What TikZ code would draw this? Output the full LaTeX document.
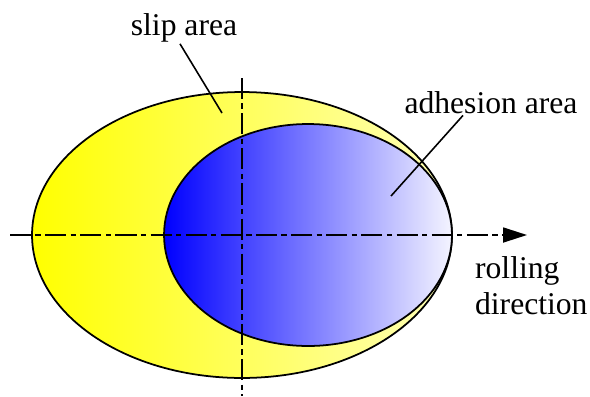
\documentclass[tikz,border=0pt]{standalone}
\usepackage{fontspec}
\setmainfont{Liberation Serif}
\newfontfamily\labelfont{Liberation Serif}
\usetikzlibrary{arrows.meta,positioning,shapes.geometric}
\definecolor{SlipYellow}{HTML}{FFFF00}
\definecolor{PaleYellow}{HTML}{FFFFB8}
\definecolor{StickBlue}{HTML}{0000FF}
\definecolor{PaleBlue}{HTML}{F4F4FF}

\begin{document}
\begin{tikzpicture}[x=0.02cm,y=-0.02cm,
      zone/.style={ellipse,draw=black,line width=1pt,inner sep=0pt},
      axis/.style={line width=1pt,dash pattern=on 12pt off 2.5pt on 3pt off 2.5pt},
      lbl/.style={font=\labelfont\fontsize{18}{20.4}\selectfont,inner sep=1pt},
      leader/.style={line width=0.9pt},
    ]
    \useasboundingbox (0,0) rectangle (590,396);

    % contact patch
    \node[zone,minimum width=8.4cm,minimum height=5.72cm,
          left color=SlipYellow,right color=PaleYellow] (slipzone) at (242,235) {};
    \node[zone,minimum width=5.76cm,minimum height=4.44cm,
          left color=StickBlue,right color=PaleBlue] (adhzone) at (308,235) {};

    % axes
    \coordinate (xstart) at (10,235);
    \coordinate (xend)   at (527,235);
    \coordinate (ytop)   at (242,78);
    \coordinate (ybot)   at (242,396);
    \draw[axis,-{Triangle[length=0.48cm,width=0.3cm]}] (xstart) -- (xend);
    \draw[axis] (ytop) -- (ybot);

    % labels
    \node[lbl,anchor=base] (sliplbl) at (184,35)  {slip area};
    \node[lbl,anchor=base] (adhlbl)  at (491,113) {adhesion area};
    \node[lbl,anchor=base west,align=left] (rolllbl) at (473,314) {rolling\\direction};

    \coordinate (slipdot) at (222,113);
    \coordinate (adhdot)  at (391,196);
    \draw[leader] ([xshift=-0.08cm]sliplbl.south) -- (slipdot);
    \draw[leader] ([xshift=-0.56cm]adhlbl.south) -- (adhdot);
  \end{tikzpicture}
\end{document}
